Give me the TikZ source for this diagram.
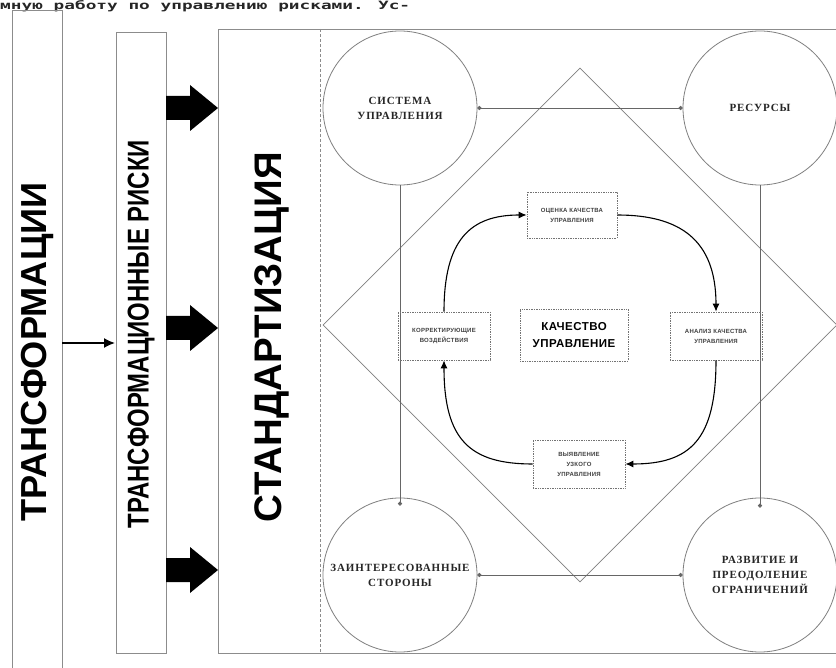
\documentclass[tikz,border=0pt]{standalone}
\usepackage{fontspec}
\setmainfont{Liberation Serif}
\setsansfont{Liberation Sans}
\newfontfamily\topfont{DejaVu Sans Mono}
\usetikzlibrary{arrows.meta,shapes.geometric}
\tikzset{
  frame/.style={draw=black!45, line width=0.9pt},
  band/.style={frame, inner sep=0pt},
  circ/.style={circle, draw=black!50, line width=0.8pt, minimum size=154pt, inner sep=0pt, align=center,
     font=\fontsize{11}{15}\selectfont\bfseries\addfontfeature{LetterSpace=8}, text=black!85},
  sbox/.style={draw=black!55, line width=0.7pt, densely dotted, inner sep=0pt, align=center,
     font=\sffamily\bfseries\fontsize{6}{10}\selectfont\addfontfeature{LetterSpace=4}, text=black!75},
  link/.style={draw=black!60, line width=0.8pt},
  dots/.style={link, {Circle[length=4pt]}-{Circle[length=4pt]}},
  flow/.style={draw=black, line width=1.1pt, -{Latex[length=8pt,width=7pt]}},
  blockarrow/.style={fill=black}
}
\begin{document}
\begin{tikzpicture}[x=1pt,y=-1pt]
\useasboundingbox (0,0) rectangle (836,668);
\fill[white] (0,0) rectangle (836,668);

% top line of text
\node[anchor=base west, inner sep=0pt, text=black!85] (toptext) at (0,10) {\resizebox{410pt}{9pt}{\topfont\bfseries мную работу по управлению рисками.  Ус-}};

% bands
\node[band, minimum width=50pt, minimum height=680pt] (b1) at (37,350) {};
\node[band, minimum width=50pt, minimum height=621pt] (b2) at (141,342.5) {};
\node[band, minimum width=630pt, minimum height=624pt] (b3) at (533,341) {};
\coordinate (dtop) at (320,29);
\coordinate (dbot) at (320,653);
\draw[frame, densely dashed] (dtop) -- (dbot);

% band texts
\node[rotate=90, inner sep=0pt] (t1) at (37,352) {\resizebox{339pt}{!}{\sffamily\bfseries ТРАНСФОРМАЦИИ}};
\node[rotate=90, inner sep=0pt] (t2) at (141,334) {\resizebox{388pt}{21pt}{\sffamily\bfseries ТРАНСФОРМАЦИОННЫЕ РИСКИ}};
\node[rotate=90, inner sep=0pt] (t3) at (272,337) {\resizebox{370pt}{!}{\sffamily\bfseries СТАНДАРТИЗАЦИЯ}};

% small arrow between band 1 and band 2
\coordinate (a1) at (62,343);
\coordinate (a2) at (115,343);
\draw[draw=black, line width=1.6pt, -{Latex[length=11pt,width=10pt]}] (a1) -- (a2);

% block arrows
\foreach \yy in {108,328,570}{
  \fill[blockarrow] (166,\yy-12) -- (190,\yy-12) -- (190,\yy-23) -- (218,\yy) -- (190,\yy+23) -- (190,\yy+12) -- (166,\yy+12) -- cycle;
}

% diamond
\node[diamond, draw=black!50, line width=0.8pt, minimum width=514pt, minimum height=514pt, inner sep=0pt] (dm) at (580,325) {};

% circles
\node[circ] (c1) at (400,108) {СИСТЕМА\\УПРАВЛЕНИЯ};
\node[circ] (c2) at (760,108) {РЕСУРСЫ};
\node[circ] (c3) at (400,575) {ЗАИНТЕРЕСОВАННЫЕ\\СТОРОНЫ};
\node[circ] (c4) at (760,575) {РАЗВИТИЕ И\\ПРЕОДОЛЕНИЕ\\ОГРАНИЧЕНИЙ};

\draw[dots] (c1.east) -- (c2.west);
\draw[dots] (c3.east) -- (c4.west);
\draw[link, -{Circle[length=4pt]}] (c1.south) -- ([yshift=-8pt]c3.north);
\draw[link, -{Circle[length=4pt]}] (c2.south) -- ([yshift=-10pt]c4.north);

% inner boxes
\node[sbox, minimum width=90pt, minimum height=46pt] (ta) at (572,215) {ОЦЕНКА КАЧЕСТВА\\УПРАВЛЕНИЯ};
\node[sbox, minimum width=92pt, minimum height=48pt] (la) at (444,336) {КОРРЕКТИРУЮЩИЕ\\ВОЗДЕЙСТВИЯ};
\node[sbox, minimum width=92pt, minimum height=48pt] (ra) at (716,336) {АНАЛИЗ КАЧЕСТВА\\УПРАВЛЕНИЯ};
\node[sbox, minimum width=92pt, minimum height=48pt] (ba) at (579,464) {ВЫЯВЛЕНИЕ\\УЗКОГО\\УПРАВЛЕНИЯ};
\node[sbox, minimum width=108pt, minimum height=52pt, font=\sffamily\bfseries\fontsize{11.5}{17}\selectfont\addfontfeature{LetterSpace=4}, text=black] (ma) at (574,335) {КАЧЕСТВО\\УПРАВЛЕНИЕ};

% cycle arrows
\draw[flow] (la.north) .. controls (444,240) and (470,215) .. (ta.west);
\draw[flow] (ta.east) .. controls (680,215) and (716,240) .. (ra.north);
\draw[flow] (ra.south) .. controls (716,440) and (690,464) .. (ba.east);
\draw[flow] (ba.west) .. controls (470,464) and (444,440) .. (la.south);
\end{tikzpicture}
\end{document}
